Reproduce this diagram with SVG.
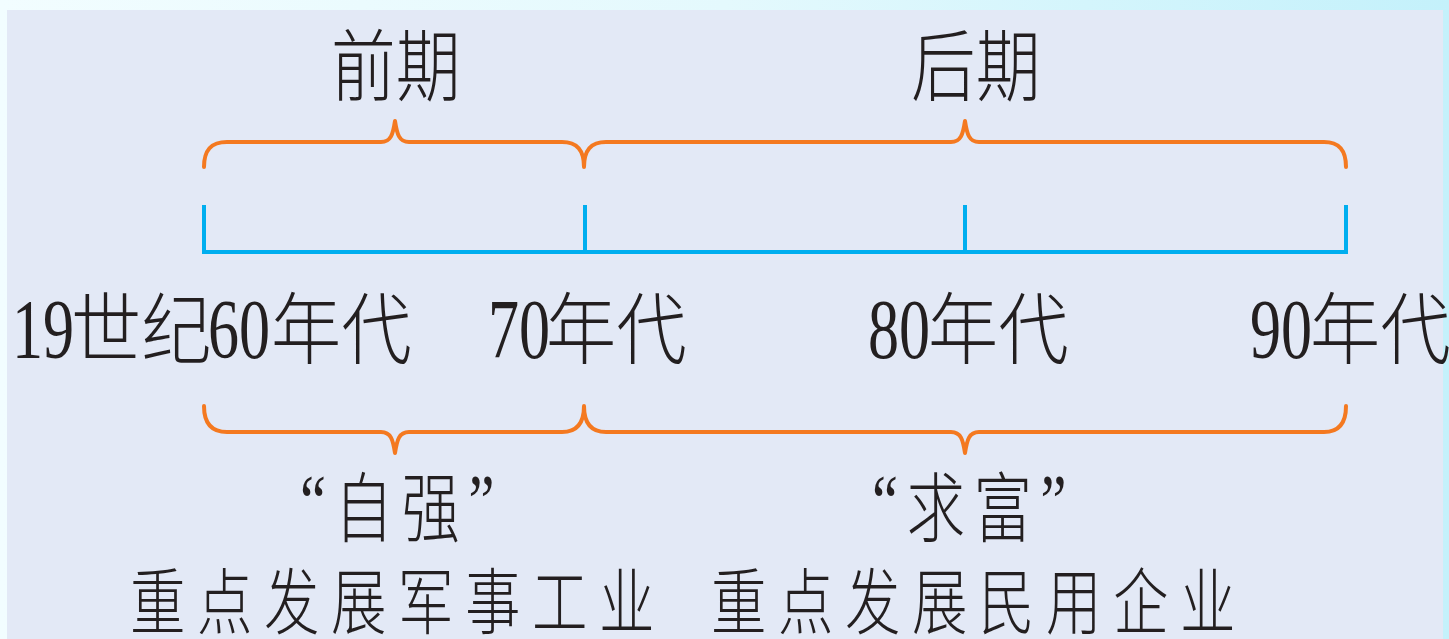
<svg xmlns="http://www.w3.org/2000/svg" width="1449" height="639" viewBox="0 0 1449 639">
<defs>
<linearGradient id="bg" x1="0" y1="0" x2="1" y2="0">
<stop offset="0" stop-color="#f2fdff"/>
<stop offset="0.5" stop-color="#e4f9fd"/>
<stop offset="1" stop-color="#c4f1fb"/>
</linearGradient>
<style>
.num{font-family:"Liberation Serif","Times New Roman",serif;font-size:84px;fill:#231f20}
.cjk{font-family:"Noto Sans CJK SC","Noto Sans CJK JP",sans-serif;font-weight:300;fill:#231f20}
.lab{font-size:78px}
.head{font-size:78px}
.quo{font-family:"Liberation Serif","Noto Sans CJK SC",serif;font-weight:300;font-size:76px;letter-spacing:11px;fill:#231f20}
.desc{font-size:72px;letter-spacing:15px}
.brace{fill:none;stroke:#f47920;stroke-width:4;stroke-linecap:round;stroke-linejoin:round}
.axis{fill:none;stroke:#00aeef;stroke-width:4;stroke-linejoin:miter}
</style>
</defs>
<rect x="0" y="0" width="1449" height="639" fill="url(#bg)"/>
<rect x="7" y="10" width="1436" height="629" fill="#e3e9f6"/>

<g id="connectors">
<path class="axis" d="M204,205 V252 H1346 V205 M585,205 V252 M965,205 V252"/>
<path class="brace" d="M204,167 C204,150 211,142 227,142 H381 C391,142 393,134 395,121 C397,134 399,142 409,142 H562 C577,142 584,150 584,167 C584,150 591,142 606,142 H951 C961,142 963,134 965,121 C967,134 969,142 979,142 H1324 C1339,142 1346,150 1346,167"/>
<path class="brace" d="M204,406 C204,423 211,432 227,432 H381 C391,432 393,440 395,453 C397,440 399,432 409,432 H562 C577,432 584,423 584,406 C584,423 591,432 606,432 H951 C961,432 963,440 965,453 C967,440 969,432 979,432 H1324 C1339,432 1346,423 1346,406"/>
</g>

<g id="head-qianqi"><text class="cjk head" transform="translate(331,95) scale(0.83,1)">前期</text></g>
<g id="head-houqi"><text class="cjk head" transform="translate(911,95) scale(0.83,1)">后期</text></g>

<g id="label-60s">
<text class="num" transform="translate(12,358) scale(0.74,1)">19</text>
<text class="cjk lab" transform="translate(71,358) scale(0.9,1)">世纪</text>
<text class="num" transform="translate(208,358) scale(0.74,1)">60</text>
<text class="cjk lab" transform="translate(271,358) scale(0.9,1)">年代</text>
</g>
<g id="label-70s">
<text class="num" transform="translate(488,358) scale(0.74,1)">70</text>
<text class="cjk lab" transform="translate(546,358) scale(0.9,1)">年代</text>
</g>
<g id="label-80s">
<text class="num" transform="translate(868,358) scale(0.74,1)">80</text>
<text class="cjk lab" transform="translate(928,358) scale(0.9,1)">年代</text>
</g>
<g id="label-90s">
<text class="num" transform="translate(1250,358) scale(0.74,1)">90</text>
<text class="cjk lab" transform="translate(1310,358) scale(0.9,1)">年代</text>
</g>

<g id="phase-ziqiang">
<text class="quo" transform="translate(300,536) scale(0.77,1)"><tspan dy="-9">“</tspan><tspan dy="9">自强</tspan><tspan dy="-9">”</tspan></text>
<text class="cjk desc" transform="translate(130,628) scale(0.77,1)">重点发展军事工业</text>
</g>
<g id="phase-qiufu">
<text class="quo" transform="translate(872,536) scale(0.77,1)"><tspan dy="-9">“</tspan><tspan dy="9">求富</tspan><tspan dy="-9">”</tspan></text>
<text class="cjk desc" transform="translate(711,628) scale(0.77,1)">重点发展民用企业</text>
</g>
</svg>
